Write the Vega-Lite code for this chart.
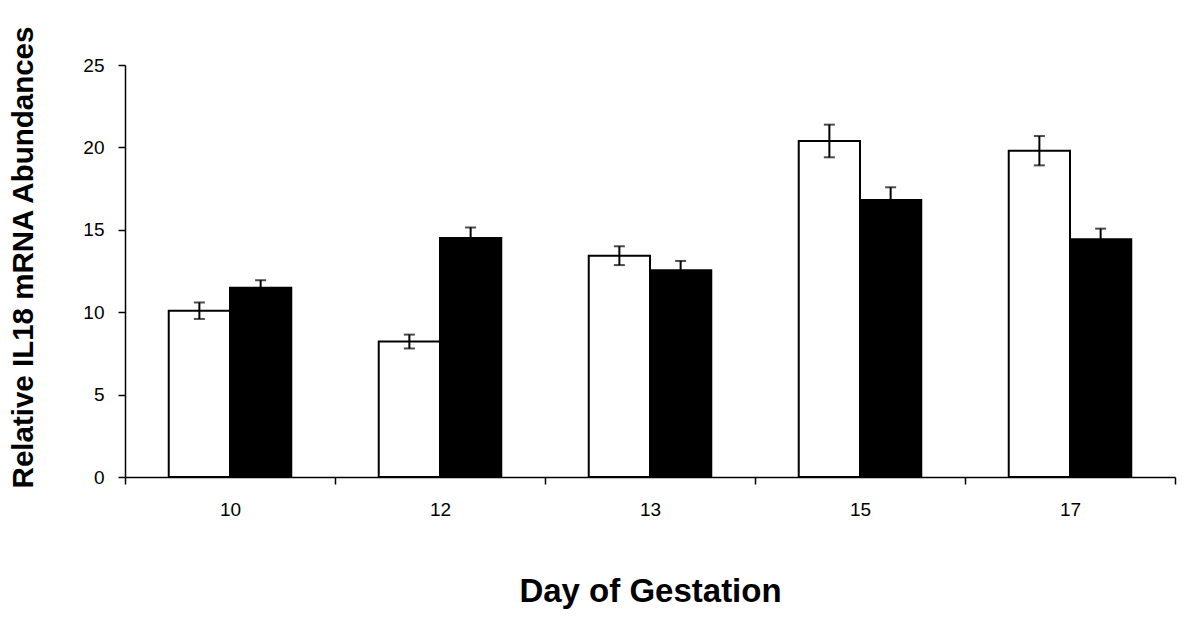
{
  "$schema": "https://vega.github.io/schema/vega-lite/v6.json",
  "width": 1050,
  "height": 412,
  "autosize": {"type": "none"},
  "padding": {"left": 125, "top": 65, "right": 25, "bottom": 157},
  "background": "white",
  "config": {
    "view": {"stroke": null},
    "axis": {
      "domainColor": "black",
      "domainWidth": 1.5,
      "tickColor": "black",
      "tickWidth": 1.5,
      "labelColor": "black",
      "labelFont": "Liberation Sans",
      "titleFont": "Liberation Sans",
      "titleColor": "black",
      "titleFontWeight": "bold",
      "grid": false
    }
  },
  "data": {
    "values": [
      {"day": "10", "group": "Series 1", "value": 10.09, "lo": 9.59, "hi": 10.59},
      {"day": "10", "group": "Series 2", "value": 11.49, "lo": 11.04, "hi": 11.94},
      {"day": "12", "group": "Series 1", "value": 8.22, "lo": 7.8, "hi": 8.64},
      {"day": "12", "group": "Series 2", "value": 14.5, "lo": 13.86, "hi": 15.14},
      {"day": "13", "group": "Series 1", "value": 13.43, "lo": 12.86, "hi": 14.0},
      {"day": "13", "group": "Series 2", "value": 12.54, "lo": 11.97, "hi": 13.11},
      {"day": "15", "group": "Series 1", "value": 20.39, "lo": 19.4, "hi": 21.38},
      {"day": "15", "group": "Series 2", "value": 16.81, "lo": 16.04, "hi": 17.58},
      {"day": "17", "group": "Series 1", "value": 19.8, "lo": 18.91, "hi": 20.69},
      {"day": "17", "group": "Series 2", "value": 14.42, "lo": 13.77, "hi": 15.07}
    ]
  },
  "encoding": {
    "x": {
      "field": "day",
      "type": "nominal",
      "sort": ["10", "12", "13", "15", "17"],
      "scale": {"paddingInner": 0, "paddingOuter": 0},
      "axis": {
        "title": "Day of Gestation",
        "titleFontSize": 33,
        "titlePadding": 56,
        "labelAngle": 0,
        "labelFontSize": 19,
        "tickBand": "extent",
        "tickSize": 7,
        "labelPadding": 16
      }
    },
    "xOffset": {
      "field": "group",
      "type": "nominal",
      "scale": {"domain": ["Series 1", "Series 2"], "paddingInner": 0, "paddingOuter": 0.714}
    }
  },
  "layer": [
    {
      "mark": {"type": "bar", "stroke": "black", "strokeWidth": 2},
      "encoding": {
        "y": {
          "field": "value",
          "type": "quantitative",
          "scale": {"domain": [0, 25], "nice": false},
          "axis": {
            "title": "Relative IL18 mRNA Abundances",
            "titleFontSize": 29.5,
            "titlePadding": 44,
            "titleY": 192,
            "labelFontSize": 19,
            "values": [0, 5, 10, 15, 20, 25],
            "tickSize": 7,
            "labelPadding": 14
          }
        },
        "fill": {
          "field": "group",
          "type": "nominal",
          "scale": {"domain": ["Series 1", "Series 2"], "range": ["white", "black"]},
          "legend": null
        }
      }
    },
    {
      "mark": {"type": "rule", "color": "black", "strokeWidth": 2},
      "encoding": {
        "y": {"field": "lo", "type": "quantitative"},
        "y2": {"field": "hi"}
      }
    },
    {
      "mark": {"type": "tick", "color": "black", "thickness": 2, "size": 11, "orient": "horizontal"},
      "encoding": {"y": {"field": "lo", "type": "quantitative"}}
    },
    {
      "mark": {"type": "tick", "color": "black", "thickness": 2, "size": 11, "orient": "horizontal"},
      "encoding": {"y": {"field": "hi", "type": "quantitative"}}
    }
  ]
}
